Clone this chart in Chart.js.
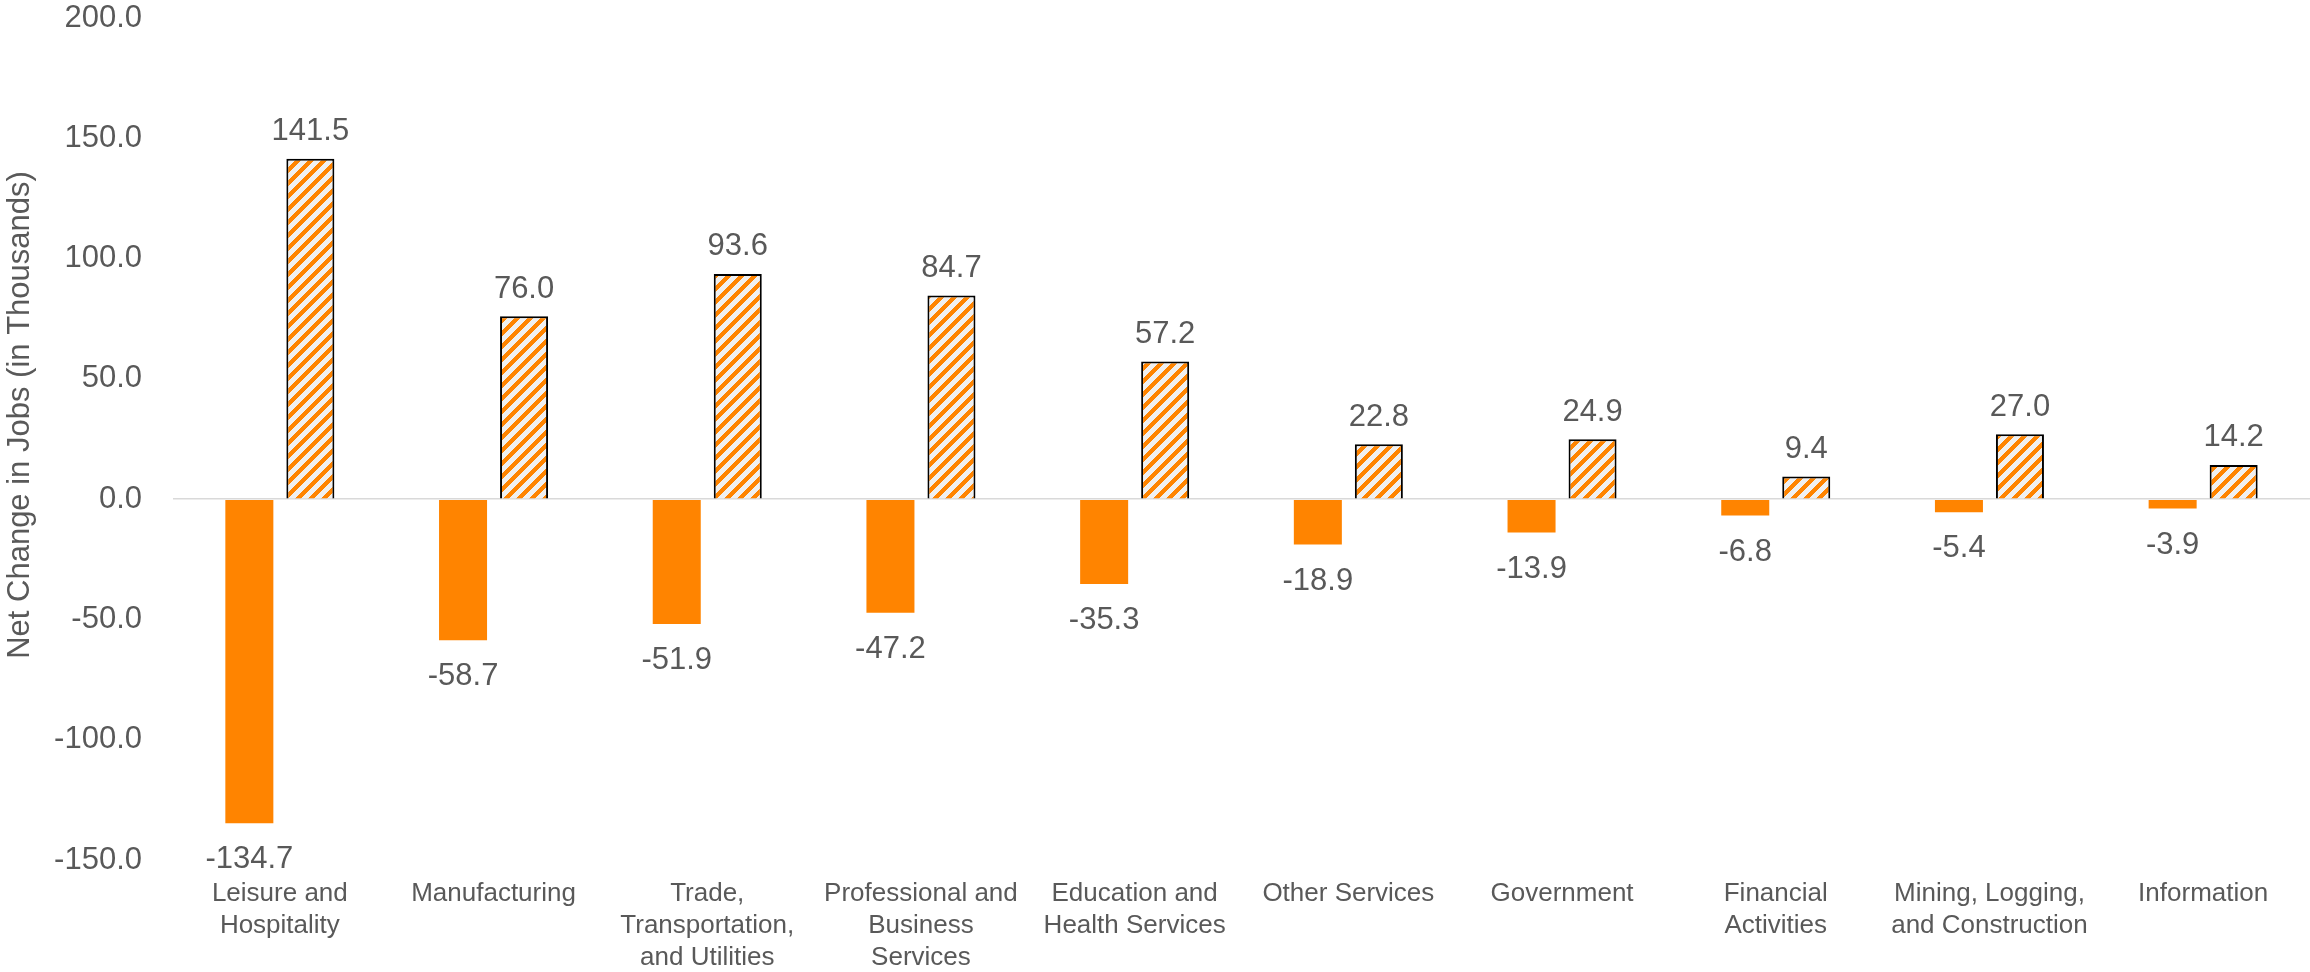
<!DOCTYPE html>
<html>
<head>
<meta charset="utf-8">
<script src="https://cdn.jsdelivr.net/npm/chart.js@4/dist/chart.umd.min.js"></script>
<style>
html,body{margin:0;padding:0;background:#ffffff;}
canvas{display:block;}
</style>
</head>
<body>
<canvas id="chart" width="2310" height="972"></canvas>
<script>
// ---- Data ----
const categories = [
  ["Leisure and", "Hospitality"],
  ["Manufacturing"],
  ["Trade,", "Transportation,", "and Utilities"],
  ["Professional and", "Business", "Services"],
  ["Education and", "Health Services"],
  ["Other Services"],
  ["Government"],
  ["Financial", "Activities"],
  ["Mining, Logging,", "and Construction"],
  ["Information"]
];
const jobLosses = [-134.7, -58.7, -51.9, -47.2, -35.3, -18.9, -13.9, -6.8, -5.4, -3.9];
const jobGains  = [141.5, 76.0, 93.6, 84.7, 57.2, 22.8, 24.9, 9.4, 27.0, 14.2];
const yTickValues = [-150, -100, -50, 0, 50, 100, 150, 200];
const yAxisTitle = "Net Change in Jobs (in Thousands)";

// ---- Styles ----
const ORANGE = '#FF8400';
const TEXT = '#595959';
const FONT = '"Liberation Sans", Arial, sans-serif';

function makeHatch() {
  const P = 13;
  const c = document.createElement('canvas');
  c.width = P; c.height = P;
  const g = c.getContext('2d');
  const img = g.createImageData(P, P);
  for (let y = 0; y < P; y++) {
    for (let x = 0; x < P; x++) {
      const i = (y * P + x) * 4;
      const orange = ((x + y) % P) < 6;
      if (orange) { img.data[i] = 255; img.data[i+1] = 132; img.data[i+2] = 0; }
      else { img.data[i] = 240; img.data[i+1] = 240; img.data[i+2] = 240; }
      img.data[i+3] = 255;
    }
  }
  g.putImageData(img, 0, 0);
  return g.createPattern(c, 'repeat');
}

const valueLabels = {
  id: 'valueLabels',
  afterDatasetsDraw(chart) {
    const ctx = chart.ctx;
    ctx.save();
    ctx.font = '31px ' + FONT;
    ctx.fillStyle = TEXT;
    ctx.textAlign = 'center';
    ctx.textBaseline = 'alphabetic';
    chart.data.datasets.forEach((ds, i) => {
      const meta = chart.getDatasetMeta(i);
      meta.data.forEach((bar, j) => {
        const v = ds.data[j];
        const y = v >= 0 ? bar.y - 18.5 : bar.y + 45;
        ctx.fillText(v.toFixed(1), bar.x, y);
      });
    });
    ctx.restore();
  }
};

const axisTitle = {
  id: 'axisTitle',
  afterDraw(chart) {
    const ctx = chart.ctx;
    ctx.save();
    ctx.font = '31px ' + FONT;
    ctx.fillStyle = TEXT;
    ctx.textAlign = 'center';
    ctx.textBaseline = 'middle';
    ctx.translate(20, 415);
    ctx.rotate(-Math.PI / 2);
    ctx.fillText(yAxisTitle, 0, 0);
    ctx.restore();
  }
};

new Chart(document.getElementById('chart'), {
  type: 'bar',
  data: {
    labels: categories,
    datasets: [
      {
        label: 'Jobs lost',
        data: jobLosses,
        backgroundColor: ORANGE,
        borderWidth: 0,
        categoryPercentage: 0.571,
        barPercentage: 0.787
      },
      {
        label: 'Jobs gained',
        data: jobGains,
        backgroundColor: makeHatch(),
        borderColor: '#000000',
        borderWidth: 2,
        categoryPercentage: 0.571,
        barPercentage: 0.787
      }
    ]
  },
  options: {
    responsive: false,
    animation: false,
    layout: { padding: { top: 0, right: 0, bottom: 0, left: 0 } },
    plugins: {
      legend: { display: false },
      tooltip: { enabled: false }
    },
    scales: {
      x: {
        grid: { display: false, drawTicks: false },
        border: { display: false },
        ticks: {
          font: { family: FONT, size: 26, lineHeight: 1.23 },
          color: TEXT,
          padding: 18,
          maxRotation: 0,
          minRotation: 0,
          autoSkip: false
        },
        afterFit(scale) { scale.height = 112; }
      },
      y: {
        min: -150,
        max: 200,
        afterBuildTicks(scale) { scale.ticks = yTickValues.map(v => ({ value: v })); },
        grid: {
          drawTicks: false,
          color: ctx => (ctx.tick && ctx.tick.value === 0) ? '#D9D9D9' : 'rgba(0,0,0,0)',
          lineWidth: 1.5
        },
        border: { display: false },
        ticks: {
          font: { family: FONT, size: 31 },
          color: TEXT,
          padding: 31,
          callback: v => Number(v).toFixed(1)
        },
        afterFit(scale) {
          scale.width = 173;
          scale.paddingTop = 18;
          scale.paddingBottom = 18;
        }
      }
    }
  },
  plugins: [valueLabels, axisTitle]
});
</script>
</body>
</html>
